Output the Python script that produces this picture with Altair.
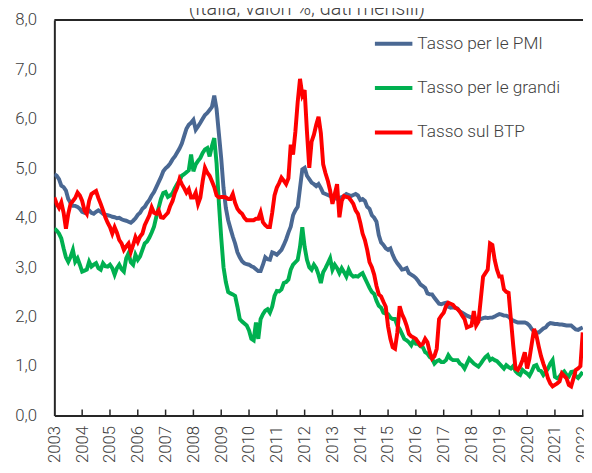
import altair as alt
import pandas as pd

# Monthly values, Jan 2003 .. Jan 2022 (percent)
pmi = [
    4.88, 4.85, 4.78, 4.65, 4.62, 4.55, 4.38, 4.30, 4.24, 4.24, 4.22, 4.18,  # 2003
    4.12, 4.10, 4.14, 4.15, 4.10, 4.08, 4.12, 4.15, 4.12, 4.08, 4.06, 4.05,  # 2004
    4.04, 4.02, 4.01, 3.99, 4.00, 3.97, 3.95, 3.94, 3.92, 3.90, 3.94, 3.99,  # 2005
    4.06, 4.10, 4.18, 4.22, 4.30, 4.36, 4.45, 4.52, 4.62, 4.72, 4.82, 4.94,  # 2006
    5.00, 5.04, 5.10, 5.18, 5.24, 5.32, 5.40, 5.50, 5.65, 5.80, 5.88, 5.92,  # 2007
    5.98, 5.78, 5.85, 5.92, 6.00, 6.08, 6.12, 6.18, 6.24, 6.47, 6.20, 5.70,  # 2008
    5.20, 4.60, 4.20, 3.95, 3.78, 3.62, 3.48, 3.30, 3.20, 3.12, 3.08, 3.06,  # 2009
    3.05, 3.02, 3.00, 2.96, 2.92, 2.92, 3.05, 3.20, 3.16, 3.15, 3.30, 3.28,  # 2010
    3.25, 3.30, 3.35, 3.45, 3.56, 3.70, 3.82, 4.05, 4.15, 4.22, 4.60, 4.98,  # 2011
    5.01, 4.85, 4.78, 4.71, 4.68, 4.64, 4.68, 4.60, 4.50, 4.48, 4.46, 4.44,  # 2012
    4.44, 4.40, 4.38, 4.40, 4.42, 4.44, 4.48, 4.46, 4.44, 4.46, 4.48, 4.45,  # 2013
    4.36, 4.38, 4.34, 4.22, 4.18, 4.05, 4.00, 3.92, 3.65, 3.50, 3.45, 3.38,  # 2014
    3.35, 3.38, 3.25, 3.15, 3.08, 3.02, 2.95, 2.96, 2.98, 2.88, 2.85, 2.82,  # 2015
    2.78, 2.72, 2.65, 2.62, 2.58, 2.47, 2.45, 2.45, 2.38, 2.32, 2.26, 2.25,  # 2016
    2.27, 2.28, 2.20, 2.18, 2.19, 2.18, 2.16, 2.10, 2.08, 2.05, 2.02, 2.00,  # 2017
    1.98, 1.97, 1.96, 1.95, 1.95, 1.97, 1.98, 1.97, 1.98, 1.98, 2.00, 2.03,  # 2018
    2.05, 2.04, 2.02, 2.02, 2.00, 1.95, 1.92, 1.90, 1.88, 1.88, 1.88, 1.88,  # 2019
    1.86, 1.82, 1.75, 1.70, 1.68, 1.68, 1.72, 1.76, 1.78, 1.84, 1.87, 1.86,  # 2020
    1.85, 1.85, 1.84, 1.84, 1.83, 1.82, 1.82, 1.82, 1.78, 1.74, 1.73, 1.76,  # 2021
    1.78,                                                                    # 2022
]

grandi = [
    3.78, 3.74, 3.68, 3.58, 3.38, 3.20, 3.11, 3.21, 3.35, 3.11, 3.18, 3.05,  # 2003
    2.91, 2.93, 2.95, 3.11, 3.01, 3.05, 3.08, 2.98, 2.95, 3.08, 3.02, 3.01,  # 2004
    3.05, 2.98, 2.85, 2.98, 3.05, 2.96, 2.91, 3.18, 3.28, 3.10, 3.05, 3.25,  # 2005
    3.15, 3.22, 3.35, 3.48, 3.52, 3.60, 3.70, 3.82, 4.02, 4.20, 4.38, 4.50,  # 2006
    4.52, 4.42, 4.45, 4.50, 4.60, 4.68, 4.75, 4.85, 4.88, 4.92, 4.96, 5.28,  # 2007
    4.94, 5.08, 5.15, 5.21, 5.31, 5.38, 5.41, 5.24, 5.45, 5.61, 5.10, 4.30,  # 2008
    3.60, 3.00, 2.70, 2.50, 2.47, 2.45, 2.42, 2.20, 1.95, 1.90, 1.86, 1.82,  # 2009
    1.72, 1.55, 1.52, 1.88, 1.55, 1.95, 2.05, 2.12, 2.15, 2.08, 2.20, 2.42,  # 2010
    2.52, 2.51, 2.55, 2.68, 2.70, 2.75, 2.95, 3.05, 3.10, 3.15, 3.41, 3.81,  # 2011
    3.41, 3.15, 3.00, 2.95, 3.05, 2.98, 2.85, 2.68, 2.90, 2.98, 3.08, 3.18,  # 2012
    2.95, 3.05, 2.98, 2.88, 2.98, 2.90, 2.81, 2.95, 2.85, 2.81, 2.82, 2.81,  # 2013
    2.85, 2.88, 2.78, 2.68, 2.58, 2.50, 2.46, 2.32, 2.22, 2.18, 2.08, 2.06,  # 2014
    2.05, 1.98, 1.95, 1.95, 1.82, 1.75, 1.65, 1.55, 1.52, 1.48, 1.42, 1.52,  # 2015
    1.45, 1.45, 1.40, 1.38, 1.28, 1.25, 1.18, 1.15, 1.05, 1.10, 1.12, 1.08,  # 2016
    1.08, 1.12, 1.22, 1.15, 1.12, 1.12, 1.12, 1.05, 1.02, 0.95, 1.05, 1.15,  # 2017
    1.10, 1.05, 1.02, 0.99, 1.05, 1.12, 1.18, 1.22, 1.12, 1.15, 1.12, 1.10,  # 2018
    1.05, 1.00, 0.95, 1.02, 0.98, 0.95, 1.00, 0.90, 0.85, 0.82, 0.92, 0.88,  # 2019
    0.85, 0.80, 0.89, 1.00, 1.02, 0.92, 0.90, 0.82, 0.88, 0.95, 1.05, 1.12,  # 2020
    0.78, 0.75, 0.79, 0.85, 0.89, 0.82, 0.79, 0.88, 0.89, 0.80, 0.76, 0.82,  # 2021
    0.88,                                                                    # 2022
]

btp = [
    4.41, 4.28, 4.20, 4.31, 4.10, 3.78, 4.08, 4.28, 4.34, 4.40, 4.51, 4.45,  # 2003
    4.34, 4.15, 4.08, 4.34, 4.48, 4.51, 4.54, 4.40, 4.28, 4.15, 4.01, 3.90,  # 2004
    3.81, 3.68, 3.81, 3.70, 3.55, 3.48, 3.35, 3.42, 3.48, 3.31, 3.45, 3.61,  # 2005
    3.51, 3.62, 3.68, 3.85, 3.95, 4.05, 4.21, 4.10, 4.08, 4.15, 4.01, 4.00,  # 2006
    4.05, 4.10, 4.24, 4.34, 4.50, 4.61, 4.78, 4.68, 4.60, 4.51, 4.58, 4.41,  # 2007
    4.41, 4.51, 4.28, 4.41, 4.74, 5.01, 4.91, 4.85, 4.74, 4.62, 4.45, 4.41,  # 2008
    4.42, 4.42, 4.41, 4.38, 4.38, 4.48, 4.30, 4.18, 4.12, 4.08, 4.00, 3.95,  # 2009
    3.95, 3.95, 3.95, 3.98, 3.98, 4.11, 3.91, 3.85, 3.81, 3.81, 4.10, 4.45,  # 2010
    4.61, 4.70, 4.81, 4.75, 4.68, 4.80, 5.48, 5.28, 5.74, 6.34, 6.81, 6.48,  # 2011
    6.58, 5.74, 5.01, 5.54, 5.68, 5.88, 6.04, 5.71, 5.08, 4.90, 4.75, 4.55,  # 2012
    4.28, 4.48, 4.68, 4.01, 4.34, 4.44, 4.42, 4.41, 4.35, 4.28, 4.15, 4.08,  # 2013
    3.90, 3.68, 3.55, 3.35, 3.10, 3.00, 2.85, 2.62, 2.45, 2.41, 2.30, 2.20,  # 2014
    1.80, 1.55, 1.38, 1.35, 1.68, 2.21, 2.05, 1.95, 1.82, 1.65, 1.60, 1.58,  # 2015
    1.55, 1.48, 1.42, 1.45, 1.55, 1.48, 1.28, 1.15, 1.20, 1.35, 1.95, 2.02,  # 2016
    2.08, 2.21, 2.28, 2.26, 2.24, 2.18, 2.15, 2.10, 2.02, 1.95, 1.78, 1.80,  # 2017
    1.82, 2.11, 1.82, 1.90, 2.35, 2.81, 2.88, 2.95, 3.48, 3.45, 3.15, 2.95,  # 2018
    2.81, 2.81, 2.55, 2.50, 2.48, 1.95, 1.42, 0.95, 0.92, 1.00, 1.12, 1.28,  # 2019
    0.95, 1.15, 1.45, 1.75, 1.62, 1.40, 1.20, 1.05, 0.92, 0.75, 0.65, 0.59,  # 2020
    0.62, 0.65, 0.69, 0.85, 0.80, 0.75, 0.62, 0.59, 0.75, 0.92, 0.95, 1.00,  # 2021
    1.68,                                                                    # 2022
]

series_names = ["Tasso per le PMI", "Tasso per le grandi", "Tasso sul BTP"]
series_colors = ["#4A6893", "#00B050", "#FF0000"]
year_ticks = list(range(2003, 2023))
inner_ticks = list(range(2004, 2023))
y_ticks = [0, 1, 2, 3, 4, 5, 6, 7, 8]
subtitle = "(Italia; valori %; dati mensili)"

rows = []
for name, vals in zip(series_names, [pmi, grandi, btp]):
    for i, v in enumerate(vals):
        rows.append({"t": 2003 + i / 12.0, "value": v, "series": name})
df = pd.DataFrame(rows)
ticks_df = pd.DataFrame({"t": inner_ticks})

FONT = "Roboto"
TEXT_COLOR = "#404040"
AXIS_COLOR = "#262626"
X_MIN, X_MAX = 2003, 2022.01
PLOT_W, PLOT_H = 536, 401

x_scale = alt.Scale(domain=[X_MIN, X_MAX], nice=False, zero=False)
y_scale = alt.Scale(domain=[0, 8], nice=False)

x_axis = alt.Axis(
    values=year_ticks, format="d", title=None, grid=False, ticks=False,
    labelAngle=270, labelAlign="right", labelBaseline="middle",
    labelPadding=10, labelFlush=False, labelOverlap=False,
)
y_axis = alt.Axis(
    values=y_ticks, title=None, grid=False, ticks=False,
    labelExpr="replace(format(datum.value, '.1f'), '.', ',')",
    labelPadding=18,
)
x_enc = alt.X("t:Q", scale=x_scale, axis=x_axis)
y_enc = alt.Y("value:Q", scale=y_scale, axis=y_axis)
color_enc = alt.Color(
    "series:N",
    scale=alt.Scale(domain=series_names, range=series_colors),
    legend=alt.Legend(
        title=None, orient="none", legendX=323, legendY=3,
        symbolType="stroke", symbolSize=1444, symbolStrokeWidth=4,
        labelFont=FONT, labelFontSize=17.5, labelFontWeight=300, labelColor=TEXT_COLOR,
        labelOffset=3, rowPadding=15, padding=0,
    ),
)

layers = []
for name in series_names:
    layers.append(
        alt.Chart(df)
        .transform_filter(alt.datum.series == name)
        .mark_line(strokeWidth=4, clip=True)
        .encode(x=x_enc, y=y_enc, color=color_enc)
    )

# frame line along the top edge of the plot area
top_line = (
    alt.Chart(ticks_df)
    .transform_filter(alt.datum.t == 2004)
    .mark_rule(color=AXIS_COLOR, strokeWidth=2)
    .encode(x=alt.value(0), x2=alt.value(PLOT_W), y=alt.value(0))
)
tick_marks = alt.Chart(ticks_df).mark_rule(color=AXIS_COLOR, strokeWidth=1.5).encode(
    x=x_enc,
    y=alt.datum(0),
    y2=alt.datum(0.12),
)
title_text = alt.Chart(ticks_df).transform_filter(alt.datum.t == 2004).mark_text(
    text=subtitle, font=FONT, fontSize=20, fontWeight=300, color=TEXT_COLOR,
    baseline="alphabetic", align="center",
).encode(x=alt.value(256), y=alt.value(-5))

chart = (
    alt.layer(*layers, tick_marks, title_text, top_line)
    .properties(
        width=PLOT_W, height=PLOT_H,
        autosize=alt.AutoSizeParams(type="none"),
        padding={"left": 47, "top": 9, "right": 1, "bottom": 45},
    )
    .configure_view(stroke=None)
    .configure_axisX(
        labelAngle=270, labelAlign="right", labelBaseline="middle",
        labelPadding=10, labelFlush=False, labelOverlap=False,
        labelFont=FONT, labelFontSize=17, labelFontWeight=300, labelColor=TEXT_COLOR,
        domainColor=AXIS_COLOR, domainWidth=2, ticks=False, grid=False,
    )
    .configure_axisY(
        labelFont=FONT, labelFontSize=17, labelFontWeight=300, labelColor=TEXT_COLOR,
        labelPadding=18, domainColor=AXIS_COLOR, domainWidth=2, ticks=False, grid=False,
    )
)

chart.save("out.html", embed_options={"renderer": "svg", "actions": False})
